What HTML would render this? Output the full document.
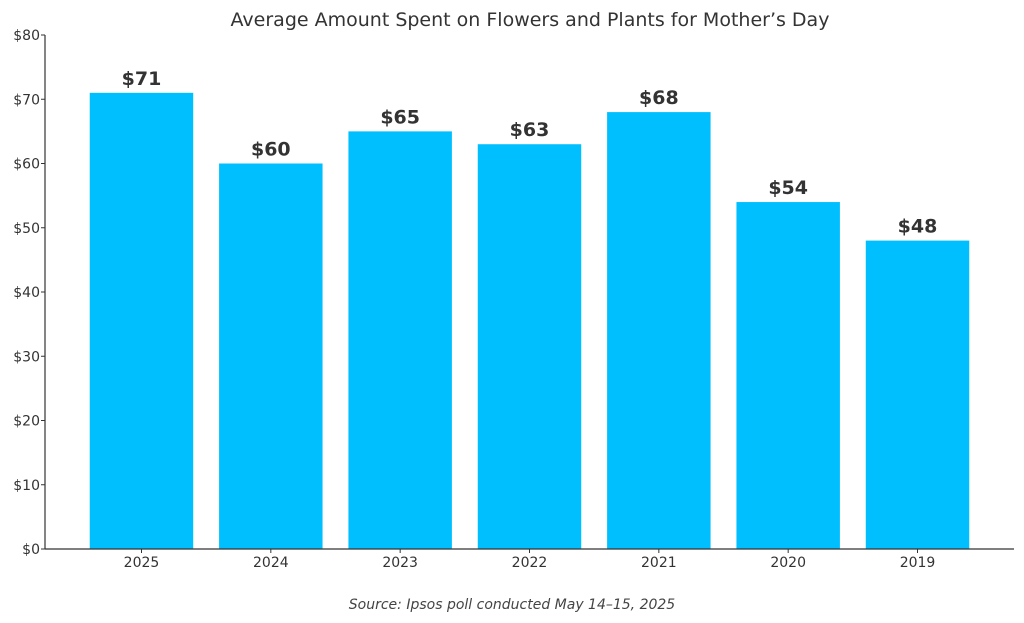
<!DOCTYPE html>
<html><head><meta charset="utf-8"><style>
html,body{margin:0;padding:0;background:#fff;}
svg{display:block;font-family:"DejaVu Sans","Liberation Sans",sans-serif;}
</style></head><body>
<svg id="chart" width="1024" height="623" viewBox="0 0 1024 623" xmlns="http://www.w3.org/2000/svg">
<text x="530" y="26" text-anchor="middle" font-size="19" fill="#333">Average Amount Spent on Flowers and Plants for Mother’s Day</text>
<g id="bars"></g>
<g id="axes"></g>
<text x="512" y="609" text-anchor="middle" font-size="14" font-style="italic" fill="#444">Source: Ipsos poll conducted May 14–15, 2025</text>
</svg>
<script>
const categories = ["2025","2024","2023","2022","2021","2020","2019"];
const values = [71,60,65,63,68,54,48];
const yTicks = [0,10,20,30,40,50,60,70,80];
const yTickLabels = ["$0","$10","$20","$30","$40","$50","$60","$70","$80"];

const NS="http://www.w3.org/2000/svg";
const plotLeft=45,plotRight=1014,plotTop=35,plotBottom=549;
const xMin=-0.746,xMax=categories.length-1+0.746;
function yScale(v){return plotBottom-(v/80)*(plotBottom-plotTop);}
function xScale(i){return plotLeft+(i-xMin)/(xMax-xMin)*(plotRight-plotLeft);}
const bw=0.8*(plotRight-plotLeft)/(xMax-xMin);
function mk(tag,attrs,parent){const e=document.createElementNS(NS,tag);for(const k in attrs)e.setAttribute(k,attrs[k]);parent.appendChild(e);return e;}
const barsG=document.getElementById('bars'),axesG=document.getElementById('axes');
values.forEach((v,i)=>{
  const r=mk('rect',{x:xScale(i)-bw/2,y:yScale(v),width:bw,height:plotBottom-yScale(v),fill:'#00BFFF'},barsG);
  
  
  const t=mk('text',{x:xScale(i),y:yScale(v)-8,'text-anchor':'middle','font-size':'19','font-weight':'bold',fill:'#333'},barsG);
  t.textContent='$'+v;
  
  
  const tk=mk('line',{x1:xScale(i),x2:xScale(i),y1:plotBottom,y2:plotBottom+4,stroke:'#333','stroke-width':1},axesG);
  
  
  const l=mk('text',{x:xScale(i),y:plotBottom+18,'text-anchor':'middle','font-size':'14',fill:'#333'},axesG);
  l.textContent=categories[i];
  
  
});
yTicks.forEach((v,i)=>{
  const tk=mk('line',{x1:plotLeft-4,x2:plotLeft,y1:yScale(v),y2:yScale(v),stroke:'#333','stroke-width':1},axesG);
  
  
  const l=mk('text',{x:plotLeft-5,y:yScale(v)+5,'text-anchor':'end','font-size':'14',fill:'#333'},axesG);
  l.textContent=yTickLabels[i];
  
  
});
const ya=mk('line',{x1:plotLeft,x2:plotLeft,y1:plotTop,y2:plotBottom,stroke:'#333','stroke-width':1.2},axesG);


const xa=mk('line',{x1:plotLeft,x2:plotRight,y1:plotBottom,y2:plotBottom,stroke:'#333','stroke-width':1.2},axesG);


</script>
</body></html>
